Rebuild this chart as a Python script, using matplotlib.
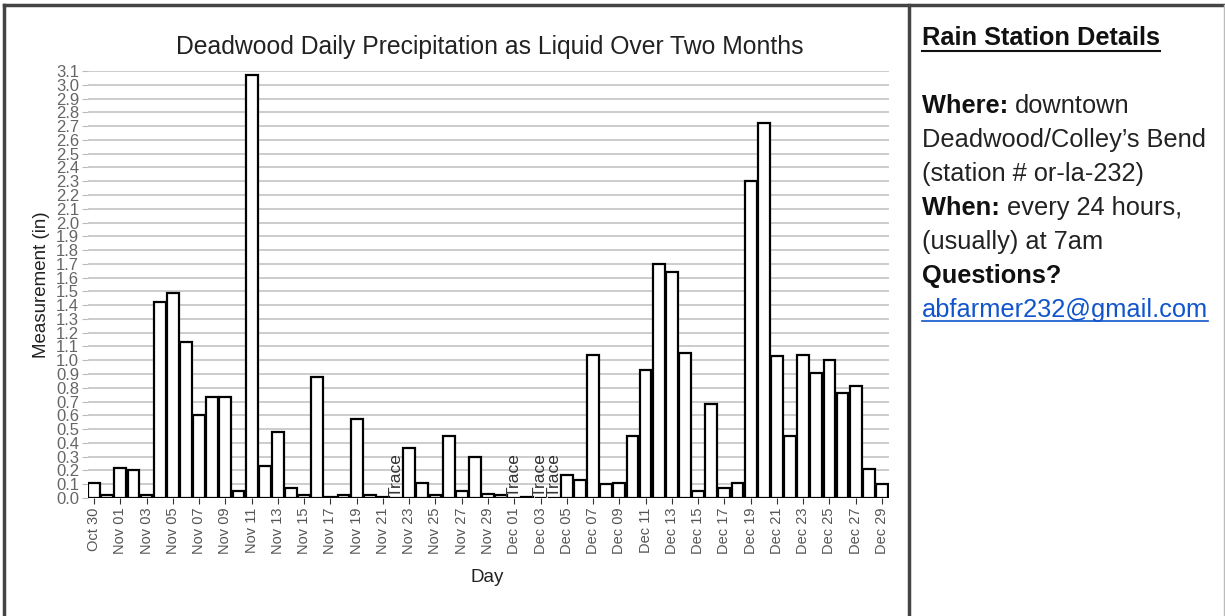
import numpy as np
import pandas as pd
import matplotlib
matplotlib.use("Agg")
import matplotlib.pyplot as plt
from matplotlib.lines import Line2D

plt.rcParams['font.family'] = ['Liberation Sans', 'DejaVu Sans']

# daily precipitation (in), None = trace
days = pd.date_range('2019-10-30', periods=61, freq='D')
day_labels = [d.strftime('%b %d') for d in days]
precip = [0.11, 0.02, 0.22, 0.20, 0.02, 1.42, 1.49, 1.13, 0.60, 0.73,
          0.73, 0.05, 3.07, 0.23, 0.48, 0.07, 0.02, 0.88, 0.01, 0.02,
          0.57, 0.02, 0.01, None, 0.36, 0.11, 0.02, 0.45, 0.05, 0.30,
          0.03, 0.02, None, 0.01, None, None, 0.17, 0.13, 1.04, 0.10,
          0.11, 0.45, 0.93, 1.70, 1.64, 1.05, 0.05, 0.68, 0.07, 0.11,
          2.30, 2.72, 1.03, 0.45, 1.04, 0.91, 1.00, 0.76, 0.81, 0.21,
          0.10]
y_ticks = [round(0.1 * i, 1) for i in range(32)]

info_lines = [
    ("Where: ", "downtown"),
    ("", "Deadwood/Colley\u2019s Bend"),
    ("", "(station # or-la-232)"),
    ("When: ", "every 24 hours,"),
    ("", "(usually) at 7am"),
    ("Questions?", ""),
]
email = "abfarmer232@gmail.com"

W, H = 1225, 616
fig = plt.figure(figsize=(W / 100, H / 100), dpi=100)

def fx(px):
    return px / W

def fy(py):
    return 1 - py / H

ax = fig.add_axes([fx(87.5), fy(498), fx(888.5) - fx(87.5), fy(71) - fy(498)])

x = np.arange(len(precip))
heights = [0 if v is None else v for v in precip]
ax.bar(x, heights, width=0.9, color='white', edgecolor='black', linewidth=1.6, zorder=3)
for i, v in enumerate(precip):
    if v is None:
        ax.text(i, 0.01, 'Trace', rotation=90, ha='center', va='bottom',
                fontsize=12.5, color='#333333', zorder=4)

ax.set_xlim(-0.5, len(precip) - 0.5)
ax.set_ylim(0, 3.1)
ax.set_yticks(y_ticks)
ax.set_yticklabels([f'{t:.1f}' for t in y_ticks], fontsize=12, color='#666666')
ax.set_xticks(x[::2])
ax.set_xticklabels(day_labels[::2], rotation=90, fontsize=10.5, color='#555555')
ax.tick_params(axis='y', length=4, color='#bbbbbb', pad=2)
ax.tick_params(axis='x', length=4, color='#333333', pad=3)
ax.grid(axis='y', color='#c4c4c4', linewidth=1.2, zorder=0)
for s in ax.spines.values():
    s.set_visible(False)
ax.set_axisbelow(True)

fig.text(fx(490), fy(47), 'Deadwood Daily Precipitation as Liquid Over Two Months',
         ha='center', va='center', fontsize=17.8, color='#222222')
fig.text(fx(42), fy(285), 'Measurement (in)', rotation=90, ha='center', va='center',
         fontsize=13.5, color='#222222')
fig.text(fx(487), fy(577), 'Day', ha='center', va='center', fontsize=13.5, color='#222222')

# frame around the panel
fig.add_artist(Line2D([fx(4), fx(1223)], [fy(5), fy(5)], color='#444444', lw=2.5))
fig.add_artist(Line2D([fx(4), fx(4)], [fy(5), fy(616)], color='#444444', lw=2.5))
fig.add_artist(Line2D([fx(909), fx(909)], [fy(5), fy(616)], color='#444444', lw=2.5))
fig.add_artist(Line2D([fx(1224), fx(1224)], [fy(5), fy(616)], color='#bbbbbb', lw=1))

# side panel text
renderer = fig.canvas.get_renderer()
tx = 922
fs = 18.3
head = fig.text(fx(tx), fy(38), 'Rain Station Details', ha='left', va='center',
                fontsize=fs, fontweight='bold', color='#111111')
bb = head.get_window_extent(renderer)
fig.add_artist(Line2D([fx(tx), bb.x1 / W], [fy(51), fy(51)], color='#111111', lw=1.5))

y0, step = 106, 34
for k, (b, n) in enumerate(info_lines):
    yy = fy(y0 + k * step)
    xx = fx(tx)
    if b:
        t = fig.text(xx, yy, b, ha='left', va='center', fontsize=fs,
                     fontweight='bold', color='#111111')
        xx = t.get_window_extent(renderer).x1 / W
    if n:
        fig.text(xx, yy, n, ha='left', va='center', fontsize=fs, color='#222222')

ey = y0 + len(info_lines) * step
et = fig.text(fx(tx), fy(ey), email, ha='left', va='center', fontsize=fs, color='#1155cc')
eb = et.get_window_extent(renderer)
fig.add_artist(Line2D([fx(tx), eb.x1 / W], [fy(ey + 11), fy(ey + 11)], color='#1155cc', lw=1.2))

fig.savefig('out.png', dpi=100, facecolor='white')
